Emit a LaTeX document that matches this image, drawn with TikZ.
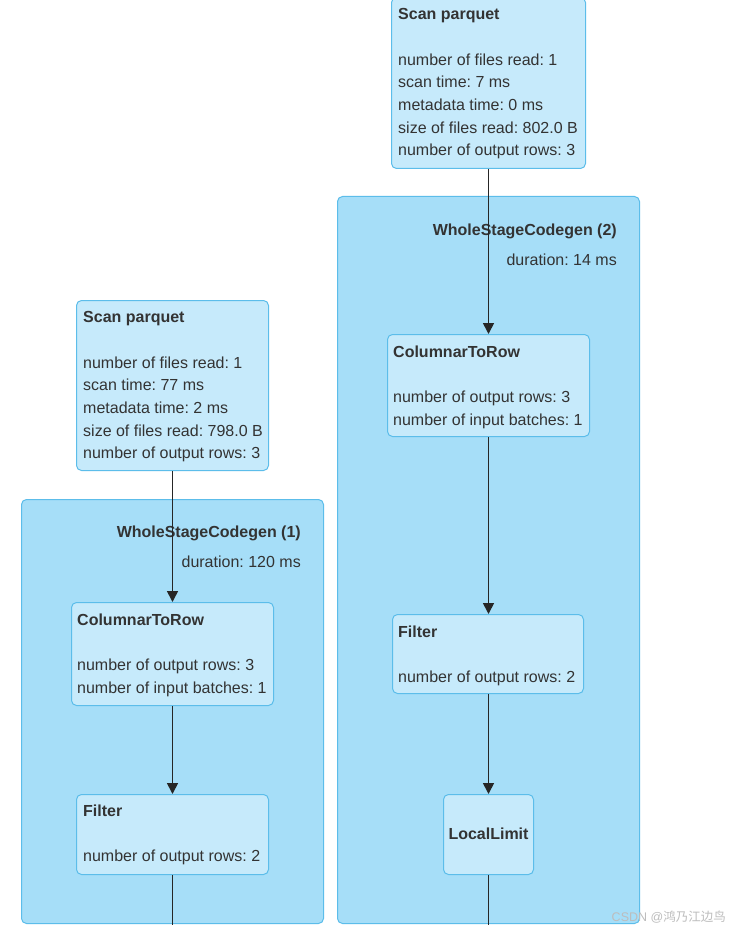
\documentclass[tikz,border=0pt]{standalone}
\usepackage{fontspec}
\setmainfont{Liberation Sans}
\newfontfamily\cjkfont{Noto Sans CJK SC}
\usetikzlibrary{arrows.meta,calc}
\frenchspacing
\definecolor{clfill}{HTML}{A6DEF8}
\definecolor{clline}{HTML}{5CBDEA}
\definecolor{ndfill}{HTML}{C6EAFB}
\definecolor{ndline}{HTML}{5CBDEA}
\definecolor{txtc}{HTML}{333333}
\definecolor{edgec}{HTML}{262626}
\definecolor{wmark}{HTML}{BDBDBD}
\begin{document}
\begin{tikzpicture}[x=1pt,y=-1pt,
  cluster/.style={draw=clline, fill=clfill, rounded corners=5pt, line width=1pt, anchor=north west, inner sep=0},
  opbox/.style={draw=ndline, fill=ndfill, rounded corners=5pt, line width=1pt, anchor=north west, inner sep=0},
  optext/.style={anchor=north west, inner sep=0, align=left, text=txtc, font=\fontsize{16}{22.67}\selectfont\frenchspacing},
  cltitle/.style={anchor=base east, inner sep=0, text=txtc, font=\fontsize{16}{18}\selectfont\bfseries},
  cldur/.style={anchor=base east, inner sep=0, text=txtc, font=\fontsize{16}{18}\selectfont\frenchspacing},
  edge/.style={draw=edgec, line width=1.7pt, -{Triangle[width=11pt,length=11pt]}},
  plainedge/.style={draw=edgec, line width=1.7pt}
]
\useasboundingbox (0,0) rectangle (738,925);
\fill[white] (0,0) rectangle (738,925);

% clusters
\node[cluster, minimum width=302, minimum height=727] (wsc2) at (337,196) {};
\node[cluster, minimum width=302, minimum height=424] (wsc1) at (21,499) {};
\node[cltitle] (wsc2t) at ($(wsc2.north east)+(-23,39)$) {WholeStageCodegen (2)};
\node[cldur] (wsc2d) at ($(wsc2.north east)+(-23,69)$) {duration: 14 ms};
\node[cltitle] (wsc1t) at ($(wsc1.north east)+(-23,38)$) {WholeStageCodegen (1)};
\node[cldur] (wsc1d) at ($(wsc1.north east)+(-23,68)$) {duration: 120 ms};

% right column
\node[opbox, minimum width=194, minimum height=171] (scanR) at (391,-3) {};
\node[optext] (scanRt) at ($(scanR.north west)+(7,10.7)$) {\rule{0pt}{12pt}\textbf{Scan parquet}\\[22.67pt]
number of files read: 1\\
scan time: 7 ms\\
metadata time: 0 ms\\
size of files read: 802.0 B\\
number of output rows: 3};

\node[opbox, minimum width=202, minimum height=102] (ctrR) at (387,334) {};
\node[optext] (ctrRt) at ($(ctrR.north west)+(6,11)$) {\rule{0pt}{12pt}\textbf{ColumnarToRow}\\[22.67pt]
number of output rows: 3\\
number of input batches: 1};

\node[opbox, minimum width=191, minimum height=79] (filtR) at (392,614) {};
\node[optext] (filtRt) at ($(filtR.north west)+(6,11)$) {\rule{0pt}{12pt}\textbf{Filter}\\[22.67pt]
number of output rows: 2};

\node[opbox, minimum width=90, minimum height=80] (limit) at (443,794) {};
\node[anchor=base, inner sep=0, text=txtc, font=\fontsize{16}{18}\selectfont\bfseries] (limitt) at ($(limit.north)+(0,45)$) {LocalLimit};

% left column
\node[opbox, minimum width=192, minimum height=170] (scanL) at (76,300) {};
\node[optext] (scanLt) at ($(scanL.north west)+(7,10.7)$) {\rule{0pt}{12pt}\textbf{Scan parquet}\\[22.67pt]
number of files read: 1\\
scan time: 77 ms\\
metadata time: 2 ms\\
size of files read: 798.0 B\\
number of output rows: 3};

\node[opbox, minimum width=202, minimum height=103] (ctrL) at (71,602) {};
\node[optext] (ctrLt) at ($(ctrL.north west)+(6,11)$) {\rule{0pt}{12pt}\textbf{ColumnarToRow}\\[22.67pt]
number of output rows: 3\\
number of input batches: 1};

\node[opbox, minimum width=192, minimum height=80] (filtL) at (76,794) {};
\node[optext] (filtLt) at ($(filtL.north west)+(7,10)$) {\rule{0pt}{12pt}\textbf{Filter}\\[22.67pt]
number of output rows: 2};

% edges
\coordinate (endR) at (488,925);
\coordinate (endL) at (172,925);
\draw[edge] (scanR.south -| limit) -- (ctrR.north -| limit);
\draw[edge] (ctrR.south -| limit) -- (filtR.north -| limit);
\draw[edge] (filtR.south -| limit) -- (limit.north);
\draw[plainedge] (limit.south) -- (limit.south |- endR);
\draw[edge] (scanL.south) -- (scanL.south |- ctrL.north);
\draw[edge] (ctrL.south) -- (ctrL.south |- filtL.north);
\draw[plainedge] (filtL.south) -- (filtL.south |- endL);

% watermark
\node[anchor=base east, inner sep=0, text=wmark, font=\fontsize{12.5}{14}\selectfont] (wm) at (726,921) {CSDN @{\cjkfont 鸿乃江边鸟}};
\end{tikzpicture}
\end{document}
